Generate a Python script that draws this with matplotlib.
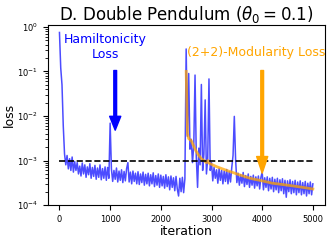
import matplotlib
matplotlib.use("Agg")
import matplotlib.pyplot as plt
import numpy as np

# blue curve: total loss, read every 25 iterations
step = 25
loss_vals = [
    0.75, 0.12, 0.05, 0.006,
    0.0014, 0.0008, 0.0013, 0.00065, 0.0011, 0.0006, 0.0012, 0.00055, 0.00095, 0.0006,
    0.0009, 0.0005, 0.00075, 0.00045, 0.00088, 0.0005, 0.0008, 0.00042, 0.00072, 0.00048,
    0.00085, 0.0004, 0.0007, 0.00044, 0.00078, 0.00038, 0.00068, 0.00042, 0.0008, 0.00037,
    0.00066, 0.0004, 0.00072, 0.00036, 0.0007, 0.0004,
    0.0069,
    0.00065, 0.00034, 0.0006, 0.00038, 0.00068, 0.00033, 0.00058, 0.00036, 0.00062, 0.00032,
    0.00057, 0.00035, 0.00066, 0.0009, 0.00033, 0.00055, 0.0003, 0.00058, 0.00034, 0.00052,
    0.0003, 0.00056, 0.00029, 0.0005, 0.00032, 0.00055, 0.00028, 0.00049, 0.0003, 0.00052,
    0.00027, 0.00048, 0.0003, 0.00053, 0.00026, 0.00046, 0.00028, 0.0005, 0.00025, 0.00047,
    0.00027, 0.00044, 0.00024, 0.00048, 0.00026, 0.00043, 0.00022, 0.00045, 0.00025, 0.00041,
    0.00021, 0.00044, 0.00023, 0.00016, 0.0004, 0.0002, 0.00042, 0.00019, 0.00039,
    0.32,
    0.0035, 0.09, 0.0018, 0.003, 0.0009, 0.0022, 0.083, 0.0012, 0.00025, 0.0019,
    0.0008, 0.051, 0.0006, 0.0014, 0.023, 0.0005, 0.0011, 0.068, 0.0006,
    0.0009, 0.00035, 0.0007, 0.0004, 0.00062, 0.00031, 0.00066, 0.00036, 0.0006, 0.0003,
    0.00058, 0.00034, 0.00063, 0.0003, 0.00056, 0.00033, 0.0007,
    0.0013, 0.0098, 0.0011, 0.00032,
    0.00052, 0.00028, 0.00048, 0.00031, 0.00054, 0.00026, 0.00046, 0.00029, 0.0005, 0.00025,
    0.00044, 0.00028, 0.00047, 0.00024, 0.00043, 0.00027, 0.00045, 0.00023, 0.00042,
    0.00055,
    0.00022, 0.00041, 0.00025, 0.00043, 0.00021, 0.0004, 0.00023, 0.00042, 0.0002, 0.00038,
    0.00022, 0.0004, 0.00019, 0.00037, 0.00021, 0.00039, 0.00018, 0.00036, 0.00015, 0.00035,
    0.0002, 0.00037, 0.00018, 0.00034, 0.00019, 0.00036, 0.00017, 0.00033, 0.00019, 0.00035,
    0.00017, 0.00032, 0.00018, 0.00034, 0.00016, 0.00031, 0.00018, 0.00033, 0.00017,
    0.0003,
]
iters = np.arange(len(loss_vals)) * step

# orange curve: modularity loss
mod_iters = [2500, 2525, 2550, 2600, 2650, 2700, 2750, 2800, 2850, 2900, 2930, 2950,
             3000, 3100, 3200, 3300, 3400, 3500, 3600, 3700, 3800, 3900, 4000,
             4200, 4400, 4600, 4800, 5000]
mod_vals = [0.1, 0.004, 0.0031, 0.0028, 0.0021, 0.0016, 0.0013, 0.0011, 0.001, 0.0009,
            0.001, 0.00088, 0.00082, 0.00073, 0.00066, 0.0006, 0.00055, 0.0005, 0.00046,
            0.00042, 0.00039, 0.00037, 0.00035, 0.00031, 0.00029, 0.00027, 0.00025, 0.00023]

fig = plt.figure(figsize=(3.32, 2.41), dpi=100)
ax = fig.add_axes([0.144, 0.149, 0.835, 0.747])

ax.plot(iters, loss_vals, color='blue', alpha=0.7, lw=1.1)
ax.plot(mod_iters, mod_vals, color='orange', alpha=0.75, lw=2)
ax.hlines(1e-3, 0, 5000, colors='k', linestyles='--', lw=1.2)

ax.annotate('', xy=(1100, 0.0048), xytext=(1100, 0.105),
            arrowprops=dict(color='blue', width=2, headwidth=8, headlength=10, shrink=0))
ax.annotate('', xy=(4000, 0.00052), xytext=(4000, 0.105),
            arrowprops=dict(color='orange', width=2, headwidth=8, headlength=12, shrink=0))
ax.text(900, 0.36, 'Hamiltonicity\nLoss', color='blue', fontsize=9, ha='center', va='center')
ax.text(2510, 0.26, '(2+2)-Modularity Loss', color='orange', fontsize=9, ha='left', va='center')

ax.set_yscale('log')
ax.set_ylim(1e-4, 1.1)
ax.set_xlim(-230, 5240)
ax.set_xticks([0, 1000, 2000, 3000, 4000, 5000])
ax.tick_params(labelsize=6)
ax.set_xlabel('iteration', fontsize=9, labelpad=1)
ax.set_ylabel('loss', fontsize=9, labelpad=1)
ax.set_title(r'D. Double Pendulum ($\theta_0=0.1$)', fontsize=12, pad=3)

fig.savefig('out.png', dpi=100)
